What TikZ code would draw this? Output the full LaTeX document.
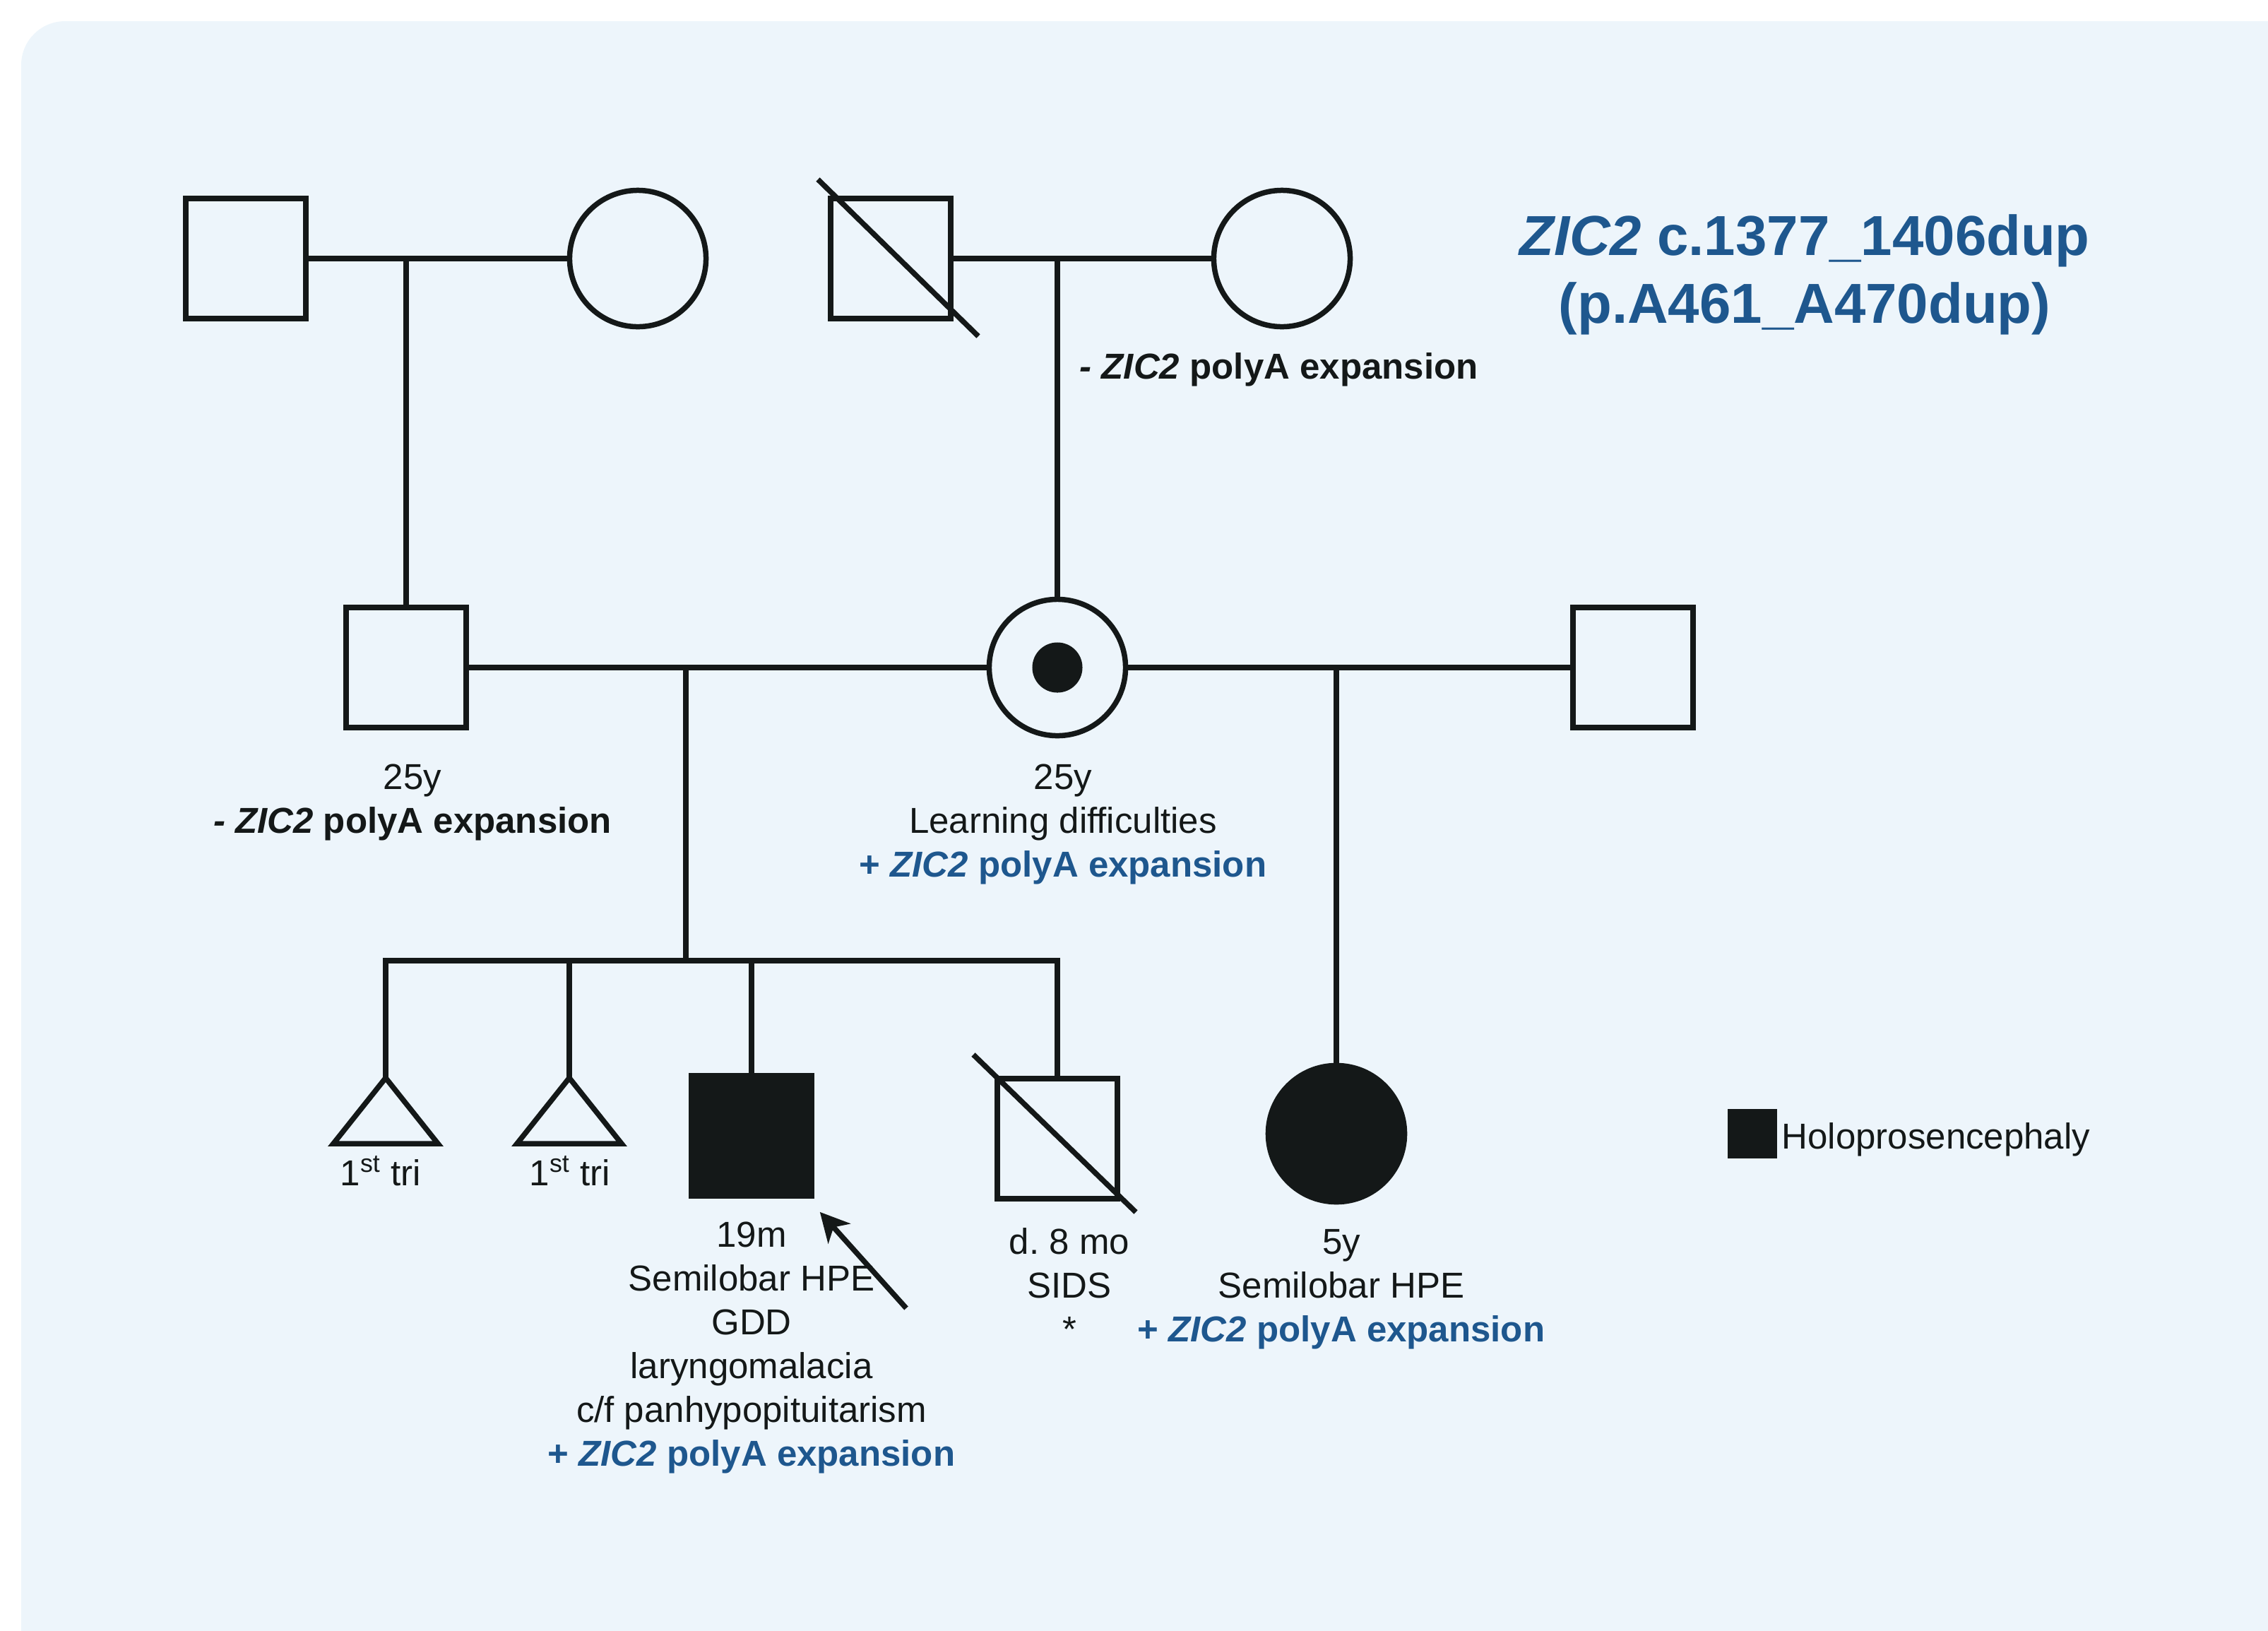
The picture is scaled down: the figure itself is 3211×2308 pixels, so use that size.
\documentclass[tikz,border=0pt]{standalone}
\usepackage{fontspec}
\setmainfont{Liberation Sans}
\usetikzlibrary{arrows.meta}

\definecolor{bgblue}{HTML}{EDF5FB}
\definecolor{zicblue}{HTML}{1E578E}
\definecolor{inkblack}{HTML}{141818}

\newcommand{\plusZIC}{\textcolor{zicblue}{\bfseries + \textit{ZIC2} polyA expansion}}
\newcommand{\minusZIC}{\textbf{\textit{- ZIC2} polyA expansion}}

\begin{document}
\begin{tikzpicture}[
    x=0.01cm, y=-0.01cm,
    every node/.style={font=\fontsize{14.5}{17.6}\selectfont, text=inkblack},
    pedline/.style={draw=inkblack, line width=0.075cm},
    male/.style={pedline, rectangle, minimum size=1.70cm, inner sep=0pt},
    female/.style={pedline, circle, minimum size=1.93cm, inner sep=0pt},
    affected/.style={fill=inkblack},
    info/.style={align=center, anchor=base, inner sep=0pt},
    proband/.style={pedline, -{Stealth[length=0.41cm, width=0.42cm, inset=0.12cm]}}
]
    \useasboundingbox (0,0) rectangle (3211,2308);
    \fill[bgblue, rounded corners=0.62cm] (30,30) rectangle (3400,2500);

    % generation I
    \node[male] (i1) at (348,366) {};
    \node[female] (i2) at (903,366) {};
    \node[male] (i3) at (1261,366) {};
    \node[female] (i4) at (1815,366) {};
    \draw[pedline] ([shift={(-103,-112)}]i3.center) -- ([shift={(124,110)}]i3.center);
    \draw[pedline] (i1.east) -- (i2.west);
    \draw[pedline] (i3.east) -- (i4.west);
    \node[anchor=base west, inner sep=0pt] (i4txt) at (1528,536) {\minusZIC};

    % generation II
    \node[male] (ii1) at (575,945) {};
    \node[female] (ii2) at (1497,945) {};
    \node[circle, fill=inkblack, minimum size=0.71cm, inner sep=0pt] (ii2dot) at (ii2) {};
    \node[male] (ii3) at (2312,945) {};
    \draw[pedline] (ii1.east) -- (ii2.west);
    \draw[pedline] (ii2.east) -- (ii3.west);
    \draw[pedline] (ii1.north) -- (ii1.north |- i1.east);
    \draw[pedline] (ii2.north) -- (ii2.north |- i4.west);
    % base anchor = baseline of the last line
    \node[info] (ii1txt) at (584,1179) {25y\\\minusZIC};
    \node[info] (ii2txt) at (1505,1241) {25y\\Learning difficulties\\\plusZIC};

    % generation III
    \coordinate (sibtop) at (971,945);
    \coordinate (sibbot) at (971,1360);
    \coordinate (t1) at (546,1526);
    \coordinate (t2) at (806,1526);
    \node[male, affected] (iii3) at (1064,1608) {};
    \node[male] (iii4) at (1497,1612) {};
    \node[female, affected] (iii5) at (1892,1605) {};
    \draw[pedline] (t1) -- ++(74,93) -- ++(-148,0) -- cycle;
    \draw[pedline] (t2) -- ++(74,93) -- ++(-148,0) -- cycle;
    \draw[pedline] ([shift={(-119,-119)}]iii4.center) -- ([shift={(111,104)}]iii4.center);
    \draw[pedline] (sibtop) -- (sibbot);
    \draw[pedline] (t1) -- (t1 |- sibbot) -- (iii4.north |- sibbot) -- (iii4.north);
    \draw[pedline] (t2) -- (t2 |- sibbot);
    \draw[pedline] (iii3.north) -- (iii3.north |- sibbot);
    \draw[pedline] (iii5.north) -- (iii5.north |- ii2.east);

    \node[info] (t1txt) at (539,1678) {1\textsuperscript{st} tri};
    \node[info] (t2txt) at (807,1678) {1\textsuperscript{st} tri};
    \node[info] (iii3txt) at (1064,2075) {19m\\Semilobar HPE\\GDD\\laryngomalacia\\c/f panhypopituitarism\\\plusZIC};
    \node[info] (iii4txt) at (1514,1899) {d.\ 8 mo\\SIDS\\*};
    \node[info] (iii5txt) at (1899,1899) {5y\\Semilobar HPE\\\plusZIC};

    \coordinate (arrtail) at (1283,1852);
    \draw[proband] (arrtail) -- ([shift={(8,19)}]iii3.south east);

    % legend and title
    \node[rectangle, fill=inkblack, minimum size=0.70cm, inner sep=0pt] (legbox) at (2481,1605) {};
    \node[anchor=base west, inner sep=0pt] (legtxt) at (2522,1626) {Holoprosencephaly};
    \node[align=center, anchor=base, inner sep=0pt, font=\fontsize{22.7}{27.3}\selectfont\bfseries, text=zicblue] (title) at (2555,457) {\textit{ZIC2} c.1377\_1406dup\\(p.A461\_A470dup)};
\end{tikzpicture}
\end{document}
